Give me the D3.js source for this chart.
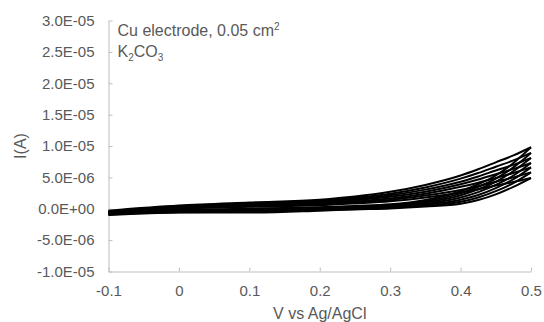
<!DOCTYPE html>
<html>
<head>
<meta charset="utf-8">
<script src="https://cdn.jsdelivr.net/npm/d3@7"></script>
<style>
  body { margin: 0; background: #fff; }
  svg { display: block; font-family: "Liberation Sans", Arial, sans-serif; }
  .axis path, .axis line { stroke: #bfbfbf; }
  .axis text { fill: #595959; font-size: 15px; }
</style>
</head>
<body>
<svg id="chart" width="544" height="322"></svg>
<script>
// potential grid (V vs Ag/AgCl) the branches are read at
var volts = [-0.1, 0, 0.1, 0.2, 0.25, 0.3, 0.35, 0.4, 0.425, 0.45, 0.475, 0.5];

// anodic sweeps, current in microamps, one row per cycle
var fwd1 = [-0.3, 0.5, 1.0, 1.45, 1.95, 2.7, 3.8, 5.3, 6.3, 7.4, 8.5, 9.8];
var fwd2 = [-0.4, 0.4, 0.85, 1.3, 1.75, 2.4, 3.4, 4.8, 5.7, 6.7, 7.7, 8.9];
var fwd3 = [-0.5, 0.3, 0.75, 1.15, 1.55, 2.15, 3.05, 4.3, 5.15, 6.1, 7.0, 8.1];
var fwd4 = [-0.6, 0.2, 0.65, 1.0, 1.4, 1.9, 2.7, 3.9, 4.65, 5.5, 6.35, 7.3];
var fwd5 = [-0.7, 0.1, 0.5, 0.85, 1.2, 1.65, 2.4, 3.5, 4.15, 4.9, 5.7, 6.6];
var fwd6 = [-0.8, 0.05, 0.4, 0.7, 1.0, 1.4, 2.1, 3.0, 3.6, 4.3, 5.0, 5.8];
var fwd7 = [-0.9, 0.0, 0.3, 0.55, 0.85, 1.2, 1.8, 2.6, 3.1, 3.7, 4.25, 4.9];

// cathodic (return) sweeps, same grid
var rev1 = [-0.4, -0.2, 0.0, 0.25, 0.45, 0.7, 1.4, 2.8, 3.9, 5.3, 7.3, 9.8];
var rev2 = [-0.5, -0.3, -0.1, 0.15, 0.35, 0.6, 1.2, 2.45, 3.5, 4.8, 6.6, 8.9];
var rev3 = [-0.6, -0.35, -0.2, 0.05, 0.25, 0.45, 1.0, 2.15, 3.1, 4.3, 6.0, 8.1];
var rev4 = [-0.7, -0.4, -0.3, 0.0, 0.15, 0.35, 0.8, 1.8, 2.65, 3.8, 5.3, 7.3];
var rev5 = [-0.8, -0.5, -0.4, -0.1, 0.05, 0.25, 0.65, 1.45, 2.2, 3.3, 4.7, 6.6];
var rev6 = [-0.9, -0.55, -0.5, -0.2, -0.05, 0.15, 0.5, 1.1, 1.8, 2.8, 4.1, 5.8];
var rev7 = [-1.0, -0.6, -0.6, -0.3, -0.1, 0.05, 0.35, 0.8, 1.4, 2.3, 3.5, 4.9];

var xTicks = [-0.1, 0, 0.1, 0.2, 0.3, 0.4, 0.5];
var xTickLabels = ["-0.1", "0", "0.1", "0.2", "0.3", "0.4", "0.5"];
var yTicks = [-1e-5, -5e-6, 0, 5e-6, 1e-5, 1.5e-5, 2e-5, 2.5e-5, 3e-5];
var yTickLabels = ["-1.0E-05", "-5.0E-06", "0.0E+00", "5.0E-06", "1.0E-05",
                   "1.5E-05", "2.0E-05", "2.5E-05", "3.0E-05"];

var branches = [fwd1, rev1, fwd2, rev2, fwd3, rev3, fwd4, rev4,
                fwd5, rev5, fwd6, rev6, fwd7, rev7];

var margin = {top: 20.5, right: 13, bottom: 50.5, left: 108.5},
    width = 544 - margin.left - margin.right,
    height = 322 - margin.top - margin.bottom;

var svg = d3.select("#chart");
var g = svg.append("g")
    .attr("transform", "translate(" + margin.left + "," + margin.top + ")");

var x = d3.scaleLinear().domain([-0.1, 0.5]).range([0, width]);
var y = d3.scaleLinear().domain([-1e-5, 3e-5]).range([height, 0]);

g.append("g")
    .attr("class", "axis")
    .call(d3.axisLeft(y).tickValues(yTicks)
      .tickFormat(function(d, i) { return yTickLabels[i]; })
      .tickSizeInner(-4).tickSizeOuter(0).tickPadding(14));

g.append("g")
    .attr("class", "axis")
    .attr("transform", "translate(0," + height + ")")
    .call(d3.axisBottom(x).tickValues(xTicks)
      .tickFormat(function(d, i) { return xTickLabels[i]; })
      .tickSizeInner(-4).tickSizeOuter(0).tickPadding(14));

var line = d3.line()
    .x(function(d, i) { return x(volts[i]); })
    .y(function(d) { return y(d * 1e-6); })
    .curve(d3.curveMonotoneX);

g.selectAll(".cv")
    .data(branches)
  .enter().append("path")
    .attr("class", "cv")
    .attr("d", line)
    .attr("fill", "none")
    .attr("stroke", "#000")
    .attr("stroke-width", 2)
    .attr("stroke-linejoin", "round");

// annotation
var note = g.append("text")
    .attr("fill", "#595959")
    .style("font-size", "16px");
note.append("tspan").attr("x", 9).attr("y", 15.5).text("Cu electrode, 0.05 cm");
note.append("tspan").attr("dy", -6).style("font-size", "10px").text("2");
var note2 = g.append("text")
    .attr("fill", "#595959")
    .style("font-size", "16px")
    .attr("x", 9).attr("y", 36);
note2.append("tspan").text("K");
note2.append("tspan").attr("dy", 4).style("font-size", "10px").text("2");
note2.append("tspan").attr("dy", -4).text("CO");
note2.append("tspan").attr("dy", 4).style("font-size", "10px").text("3");

// axis titles
svg.append("text")
    .attr("x", margin.left + width / 2)
    .attr("y", 319)
    .attr("text-anchor", "middle")
    .attr("fill", "#595959")
    .style("font-size", "16px")
    .text("V vs Ag/AgCl");

svg.append("text")
    .attr("transform", "translate(26," + (margin.top + height / 2) + ") rotate(-90)")
    .attr("text-anchor", "middle")
    .attr("fill", "#595959")
    .style("font-size", "16px")
    .text("I(A)");
</script>
</body>
</html>
